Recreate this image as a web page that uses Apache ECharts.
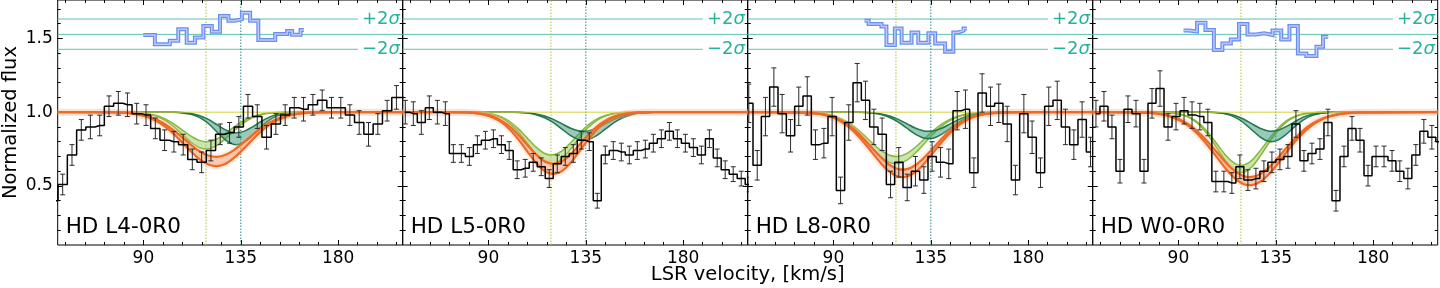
<!DOCTYPE html>
<html><head><meta charset="utf-8">
<script src="https://cdn.jsdelivr.net/npm/echarts@6/dist/echarts.min.js"></script>
<style>html,body{margin:0;padding:0;background:#fff}#c{width:1440px;height:288px}</style>
</head><body><div id="c"></div>
<script>
// ---------------- data ----------------
const panelNames = ['HD L4-0R0', 'HD L5-0R0', 'HD L8-0R0', 'HD W0-0R0'];
const xTickLabels = [90, 135, 180];
const xMinorTicks = [54, 63, 72, 81, 99, 108, 117, 126, 144, 153, 162, 171, 189, 198, 207];
const yTickLabels = [0.5, 1.0, 1.5];
const yMinorTicks = [0.2, 0.3, 0.4, 0.6, 0.7, 0.8, 0.9, 1.1, 1.2, 1.3, 1.4, 1.6, 1.7];
const sigmaLevels = [1.426, 1.527, 1.631];        // -2σ, mean, +2σ of residual panel
const sigmaLabels = ['−2', null, '+2'];
const componentVel = [118.9, 135.0];               // dotted component markers
const continuumLevel = 1.0;

// panel 1 (HD L4-0R0)
const p1Vel  = [48.4,52.7,57.0,61.3,65.5,69.8,74.1,78.4,82.6,86.9,91.2,95.5,99.8,104.1,108.4,112.6,116.9,121.2,125.5,129.8,134.1,138.3,142.6,146.9,151.2,155.5,159.7,164.0,168.3,172.6,176.9,181.2,185.4,189.7,194.0,198.3,202.6,206.9,211.1];
const p1Flux = [0.40,0.51,0.71,0.88,0.90,0.91,1.04,1.06,1.05,0.99,0.98,0.89,0.81,0.80,0.78,0.68,0.66,0.74,0.85,0.86,0.90,1.04,0.97,0.83,0.92,0.98,1.03,1.02,1.05,1.08,1.03,1.03,0.98,0.93,0.85,0.92,1.01,1.10,1.10];
const p1Err  = [0.07,0.07,0.07,0.07,0.08,0.07,0.07,0.08,0.08,0.07,0.07,0.07,0.07,0.07,0.07,0.07,0.07,0.07,0.07,0.07,0.07,0.08,0.08,0.08,0.07,0.07,0.07,0.08,0.07,0.07,0.07,0.07,0.07,0.08,0.08,0.07,0.07,0.08,0.08];
const p1ResVel = [89.9,95.3,102.2,106.1,110.0,113.8,117.7,121.6,125.4,129.3,132.4,135.5,139.3,143.1,150.9,156.4,158.7,162.6,164.1];
const p1Res    = [1.523,1.46,1.484,1.561,1.47,1.506,1.584,1.545,1.651,1.62,1.63,1.674,1.62,1.489,1.53,1.55,1.525,1.556,1.556];

// panel 2 (HD L5-0R0)
const p2Vel  = [51.6,55.3,59.0,62.7,66.4,70.1,73.8,77.5,81.2,84.9,88.6,92.3,96.0,99.6,103.3,107.0,110.7,114.4,118.1,121.8,125.5,129.2,132.9,136.6,140.3,144.0,147.7,151.4,155.1,158.8,162.5,166.2,169.9,173.6,177.3,181.0,184.7,188.4,192.1,195.7,199.4,203.1,206.8,210.5];
const p2Flux = [1.00,0.99,0.93,1.03,1.00,0.99,0.72,0.72,0.70,0.78,0.81,0.82,0.78,0.74,0.61,0.62,0.66,0.63,0.55,0.65,0.70,0.72,0.81,0.80,0.40,0.71,0.74,0.73,0.71,0.74,0.75,0.79,0.82,0.87,0.82,0.79,0.76,0.71,0.82,0.69,0.61,0.58,0.55,0.51];
const p2Err  = [0.08,0.08,0.08,0.08,0.08,0.08,0.06,0.06,0.06,0.06,0.06,0.06,0.06,0.06,0.06,0.06,0.06,0.06,0.06,0.06,0.06,0.06,0.06,0.06,0.05,0.06,0.06,0.06,0.06,0.06,0.06,0.06,0.06,0.06,0.06,0.06,0.06,0.06,0.06,0.06,0.06,0.05,0.05,0.05];

// panel 3 (HD L8-0R0)
const p3Vel  = [50.9,54.8,58.6,62.5,66.3,70.2,74.0,77.9,81.7,85.6,89.4,93.3,97.1,101.0,104.8,108.7,112.5,116.4,120.2,124.1,127.9,131.8,135.6,139.5,143.3,147.2,151.0,154.9,158.7,162.6,166.4,170.3,174.1,178.0,181.8,185.7,189.5,193.4,197.2,201.1,204.9,208.8];
const p3Flux = [1.06,0.64,0.97,1.17,0.99,0.84,1.04,1.11,0.78,0.79,0.97,0.47,0.93,1.20,1.08,0.90,0.85,0.51,0.66,0.49,0.60,0.54,0.70,0.66,0.65,1.01,1.02,0.59,1.13,1.04,1.06,0.92,0.54,0.99,0.83,0.59,1.04,1.08,0.90,0.78,0.95,0.73];
const p3Err  = [0.13,0.10,0.13,0.13,0.13,0.11,0.13,0.13,0.10,0.10,0.13,0.09,0.12,0.13,0.13,0.12,0.11,0.09,0.10,0.09,0.10,0.09,0.10,0.10,0.10,0.13,0.13,0.10,0.13,0.13,0.13,0.12,0.10,0.13,0.11,0.10,0.13,0.13,0.12,0.10,0.12,0.10];
const p3ResVel = [104.4,106.3,112.2,114.5,118.4,121.5,126.1,129.2,133.9,137.0,141.6,145.4,147.8,150.1,151.7];
const p3Res    = [1.62,1.597,1.58,1.455,1.567,1.47,1.54,1.47,1.534,1.466,1.41,1.54,1.553,1.567,1.567];

// panel 4 (HD W0-0R0)
const p4Vel  = [51.9,55.6,59.3,63.0,66.7,70.4,74.1,77.8,81.5,85.2,88.9,92.6,96.3,99.9,103.6,107.3,111.0,114.7,118.4,122.1,125.8,129.5,133.2,136.9,140.6,144.3,148.0,151.7,155.4,159.1,162.8,166.5,170.2,173.9,177.6,181.3,185.0,188.7,192.3,196.0,199.7,203.4,207.1,210.8];
const p4Flux = [0.99,1.04,0.90,0.60,1.02,0.99,0.60,1.06,1.16,0.90,0.97,1.01,0.98,0.97,0.93,0.53,0.53,0.52,0.63,0.54,0.55,0.60,0.66,0.68,0.70,0.92,0.67,0.72,0.75,0.93,0.40,0.70,0.89,0.81,0.57,0.70,0.70,0.67,0.60,0.55,0.71,0.87,0.83,0.80];
const p4Err  = [0.09,0.10,0.08,0.08,0.09,0.09,0.08,0.10,0.12,0.09,0.09,0.09,0.09,0.09,0.09,0.07,0.07,0.07,0.08,0.07,0.07,0.07,0.07,0.07,0.08,0.09,0.07,0.07,0.07,0.09,0.07,0.07,0.08,0.08,0.07,0.07,0.07,0.07,0.07,0.07,0.07,0.08,0.08,0.08];
const p4ResVel = [92.4,94.8,98.6,102.5,106.4,110.3,114.2,118.0,121.9,125.8,129.7,133.5,137.5,141.3,145.2,149.1,153.8,156.8,159.2];
const p4Res    = [1.553,1.546,1.606,1.557,1.421,1.466,1.493,1.597,1.527,1.534,1.523,1.553,1.493,1.584,1.398,1.380,1.443,1.511,1.511];

// model bands (lower / upper edges) sampled on modelVel
const modelVel = [50.4,76,80,84,88,92,96,100,104,108,112,116,120,124,128,132,136,140,144,148,152,156,160,164,168,172,209.8];
const p1OrLo = [1,0.998,0.996,0.991,0.982,0.966,0.940,0.902,0.852,0.793,0.733,0.680,0.645,0.634,0.651,0.692,0.747,0.808,0.865,0.912,0.947,0.970,0.985,0.993,0.997,0.999,1];
const p1OrHi = [1,0.999,0.997,0.993,0.985,0.972,0.950,0.918,0.877,0.829,0.779,0.735,0.706,0.697,0.711,0.745,0.791,0.841,0.888,0.927,0.956,0.975,0.987,0.994,0.997,0.999,1];
const p1LgLo = [1,1,0.999,0.998,0.995,0.988,0.972,0.944,0.901,0.848,0.796,0.759,0.751,0.775,0.821,0.876,0.924,0.960,0.981,0.992,0.997,0.999,1,1,1,1,1];
const p1LgHi = [1,1,1,0.999,0.996,0.990,0.978,0.955,0.921,0.879,0.837,0.807,0.801,0.820,0.857,0.901,0.939,0.968,0.985,0.994,0.998,0.999,1,1,1,1,1];
const p1DgLo = [1,1,1,1,1,1,1,1,0.999,0.995,0.985,0.963,0.923,0.866,0.811,0.781,0.792,0.837,0.896,0.945,0.976,0.992,0.998,0.999,1,1,1];
const p1DgHi = [1,1,1,1,1,1,1,1,0.999,0.997,0.991,0.976,0.951,0.915,0.880,0.861,0.868,0.897,0.934,0.965,0.985,0.995,0.998,1,1,1,1];

const p2OrLo = [1,0.999,0.997,0.993,0.983,0.964,0.932,0.881,0.812,0.733,0.657,0.601,0.580,0.601,0.657,0.733,0.812,0.881,0.932,0.964,0.983,0.993,0.997,0.999,1,1,1];
const p2OrHi = [1,0.999,0.998,0.994,0.986,0.970,0.943,0.901,0.844,0.778,0.714,0.667,0.650,0.667,0.714,0.778,0.844,0.901,0.943,0.970,0.986,0.994,0.998,0.999,1,1,1];
const p2LgLo = [1,1,1,0.998,0.993,0.983,0.961,0.921,0.862,0.788,0.714,0.663,0.651,0.684,0.750,0.826,0.894,0.943,0.973,0.989,0.996,0.999,1,1,1,1,1];
const p2LgHi = [1,1,1,0.998,0.994,0.986,0.968,0.935,0.885,0.824,0.763,0.720,0.711,0.738,0.793,0.856,0.912,0.953,0.978,0.991,0.997,0.999,1,1,1,1,1];
const p2DgLo = [1,1,1,1,1,1,1,0.999,0.998,0.994,0.983,0.962,0.929,0.885,0.841,0.814,0.814,0.841,0.885,0.929,0.962,0.983,0.994,0.998,0.999,1,1];
const p2DgHi = [1,1,1,1,1,1,1,1,0.999,0.996,0.988,0.974,0.951,0.921,0.891,0.873,0.873,0.891,0.921,0.951,0.974,0.988,0.996,0.999,1,1,1];

const p3OrLo = [1,0.997,0.993,0.986,0.972,0.948,0.912,0.861,0.796,0.724,0.653,0.596,0.564,0.564,0.596,0.653,0.724,0.796,0.861,0.912,0.948,0.972,0.986,0.993,0.997,0.999,1];
const p3OrHi = [1,0.997,0.994,0.988,0.975,0.954,0.922,0.877,0.819,0.755,0.693,0.642,0.614,0.614,0.642,0.693,0.755,0.819,0.877,0.922,0.954,0.975,0.988,0.994,0.997,0.999,1];
const p3LgLo = [1,0.999,0.996,0.991,0.980,0.959,0.927,0.880,0.820,0.755,0.697,0.659,0.651,0.675,0.725,0.788,0.851,0.905,0.945,0.971,0.986,0.994,0.998,0.999,1,1,1];
const p3LgHi = [1,0.999,0.997,0.992,0.983,0.965,0.937,0.897,0.846,0.790,0.741,0.708,0.701,0.721,0.764,0.818,0.873,0.919,0.953,0.975,0.988,0.995,0.998,0.999,1,1,1];
const p3DgLo = [1,1,1,1,1,1,1,0.999,0.998,0.994,0.984,0.964,0.933,0.891,0.850,0.824,0.824,0.850,0.891,0.933,0.964,0.984,0.994,0.998,0.999,1,1];
const p3DgHi = [1,1,1,1,1,1,1,1,0.999,0.996,0.988,0.974,0.951,0.921,0.891,0.873,0.873,0.891,0.921,0.951,0.974,0.988,0.996,0.999,1,1,1];

const p4OrLo = [1,0.995,0.990,0.979,0.961,0.933,0.892,0.835,0.766,0.690,0.615,0.553,0.514,0.506,0.530,0.582,0.652,0.729,0.802,0.865,0.914,0.949,0.971,0.985,0.993,0.997,1];
const p4OrHi = [1,0.996,0.991,0.982,0.966,0.941,0.904,0.853,0.792,0.725,0.658,0.603,0.568,0.561,0.582,0.628,0.691,0.759,0.824,0.880,0.923,0.954,0.974,0.987,0.993,0.997,1];
const p4LgLo = [1,1,1,0.998,0.992,0.980,0.954,0.908,0.838,0.751,0.665,0.605,0.592,0.630,0.707,0.796,0.876,0.934,0.969,0.987,0.995,0.999,1,1,1,1,1];
const p4LgHi = [1,1,1,0.998,0.993,0.982,0.960,0.919,0.858,0.781,0.706,0.653,0.641,0.675,0.743,0.821,0.891,0.942,0.973,0.989,0.996,0.999,1,1,1,1,1];
const p4DgLo = [1,1,1,1,1,1,1,1,0.999,0.996,0.987,0.966,0.930,0.879,0.829,0.801,0.811,0.852,0.905,0.950,0.978,0.992,0.998,0.999,1,1,1];
const p4DgHi = [1,1,1,1,1,1,1,1,0.999,0.997,0.991,0.978,0.954,0.921,0.889,0.871,0.877,0.904,0.938,0.968,0.986,0.995,0.999,1,1,1,1];

// ---------------- layout / style ----------------
const X_MIN = 50.4, X_MAX = 209.8, Y_MIN = 0.1, Y_MAX = 1.76;
const GRID_LEFT = 57.7, GRID_W = 345, GRID_TOP = 0, GRID_H = 245;
const SIGMA_LINE_END = 189.1;
const FONT = '"DejaVu Sans", sans-serif';
const C = {
  hist: '#000', err: '#2a2a2a', sigma: '#5cc2b4', sigmaText: '#27b29c',
  cont: '#d6d23a', compA: '#b3bf3c', compB: '#2b8a86',
  orEdge: '#ee6a26', orFill: 'rgba(246,140,92,0.42)', orHalo: 'rgba(250,180,140,0.22)',
  lgEdge: '#86b83a', lgFill: 'rgba(150,205,95,0.50)',
  dgEdge: '#22764c', dgFill: 'rgba(50,150,115,0.50)',
  resOuter: '#6a8ef0', resInner: '#bccbf9'
};

const panels = [
  {vel:p1Vel, flux:p1Flux, err:p1Err, resV:p1ResVel, res:p1Res, or:[p1OrLo,p1OrHi], lg:[p1LgLo,p1LgHi], dg:[p1DgLo,p1DgHi]},
  {vel:p2Vel, flux:p2Flux, err:p2Err, resV:null, res:null, or:[p2OrLo,p2OrHi], lg:[p2LgLo,p2LgHi], dg:[p2DgLo,p2DgHi]},
  {vel:p3Vel, flux:p3Flux, err:p3Err, resV:p3ResVel, res:p3Res, or:[p3OrLo,p3OrHi], lg:[p3LgLo,p3LgHi], dg:[p3DgLo,p3DgHi]},
  {vel:p4Vel, flux:p4Flux, err:p4Err, resV:p4ResVel, res:p4Res, or:[p4OrLo,p4OrHi], lg:[p4LgLo,p4LgHi], dg:[p4DgLo,p4DgHi]}
];

const zip = (a, b) => { const n = Math.min(a.length, b.length); const o = []; for (let k = 0; k < n; k++) o.push([a[k], b[k]]); return o; };

const grids = [], xAxes = [], yAxes = [], series = [];

function xAx(i, pos, ticks, len, labels) {
  return {type:'value', gridIndex:i, min:X_MIN, max:X_MAX, position:pos,
    axisLine:{show:false}, splitLine:{show:false},
    axisTick:{show:true, inside:true, length:len, customValues:ticks, lineStyle:{color:'#000', width:1}},
    axisLabel: labels ? {show:true, customValues:ticks, fontSize:17, color:'#000', fontFamily:FONT, margin:5} : {show:false}};
}
function yAx(i, pos, ticks, len, labels) {
  return {type:'value', gridIndex:i, min:Y_MIN, max:Y_MAX, position:pos,
    axisLine:{show:false}, splitLine:{show:false},
    axisTick:{show:true, inside:true, length:len, customValues:ticks, lineStyle:{color:'#000', width:1}},
    axisLabel: labels ? {show:true, customValues:ticks, formatter:v => v.toFixed(1), fontSize:17, color:'#000', fontFamily:FONT, margin:5} : {show:false}};
}

function bandSeries(i, lo, hi, fill, edge, width, z, halo) {
  return {
    type:'custom', xAxisIndex:4*i, yAxisIndex:4*i, z:z, silent:true, clip:true,
    data:[[X_MIN, continuumLevel]],
    renderItem:(params, api) => {
      const n = Math.min(modelVel.length, lo.length, hi.length);
      const L = [], U = [];
      for (let k = 0; k < n; k++) { L.push(api.coord([modelVel[k], lo[k]])); U.push(api.coord([modelVel[k], hi[k]])); }
      const ch = [];
      if (halo) {
        ch.push({type:'polyline', shape:{points:L, smooth:0.3}, style:{stroke:halo, lineWidth:7, fill:null}});
        ch.push({type:'polyline', shape:{points:U, smooth:0.3}, style:{stroke:halo, lineWidth:7, fill:null}});
      }
      ch.push({type:'polygon', shape:{points:L.concat(U.slice().reverse()), smooth:0.3}, style:{fill:fill, stroke:null}});
      ch.push({type:'polyline', shape:{points:L, smooth:0.3}, style:{stroke:edge, lineWidth:width, fill:null}});
      ch.push({type:'polyline', shape:{points:U, smooth:0.3}, style:{stroke:edge, lineWidth:width, fill:null}});
      return {type:'group', children:ch};
    }
  };
}

panels.forEach((p, i) => {
  grids.push({left:GRID_LEFT + i*GRID_W, top:GRID_TOP, width:GRID_W, height:GRID_H,
    show:true, borderColor:'#000', borderWidth:1, backgroundColor:'transparent'});
  xAxes.push(xAx(i, 'bottom', xTickLabels, 5, true));
  xAxes.push(xAx(i, 'bottom', xMinorTicks, 3, false));
  xAxes.push(xAx(i, 'top', xTickLabels, 5, false));
  xAxes.push(xAx(i, 'top', xMinorTicks, 3, false));
  yAxes.push(yAx(i, 'left', yTickLabels, 5, i === 0));
  yAxes.push(yAx(i, 'left', yMinorTicks, 3, false));
  yAxes.push(yAx(i, 'right', yTickLabels, 5, false));
  yAxes.push(yAx(i, 'right', yMinorTicks, 3, false));
  const ax = {xAxisIndex:4*i, yAxisIndex:4*i};

  // sigma reference lines
  sigmaLevels.forEach((lvl, s) => {
    const lab = sigmaLabels[s];
    series.push(Object.assign({type:'line', silent:true, z:1, symbol:'none', animation:false,
      data: lab ? [[X_MIN, lvl], [SIGMA_LINE_END, lvl]] : [[X_MIN, lvl], [X_MAX, lvl]],
      lineStyle:{color:C.sigma, width:1},
      endLabel: lab ? {show:true, distance:4, formatter:'{a|' + lab + '}{b|σ}',
        rich:{a:{color:C.sigmaText, fontSize:18, fontFamily:FONT}, b:{color:C.sigmaText, fontSize:18, fontFamily:FONT, fontStyle:'italic'}}} : {show:false}
    }, ax));
  });
  // component velocity markers
  componentVel.forEach((v, c) => {
    series.push(Object.assign({type:'line', silent:true, z:1, symbol:'none',
      data:[[v, Y_MIN], [v, Y_MAX]],
      lineStyle:{color: c === 0 ? C.compA : C.compB, width:1, type:[1.5, 1.5]}}, ax));
  });
  // model bands
  series.push(bandSeries(i, p.lg[0], p.lg[1], C.lgFill, C.lgEdge, 1.5, 2));
  series.push(bandSeries(i, p.dg[0], p.dg[1], C.dgFill, C.dgEdge, 1.5, 3));
  series.push(Object.assign({type:'line', silent:true, z:4, symbol:'none',
    data:[[X_MIN, continuumLevel], [X_MAX, continuumLevel]], lineStyle:{color:C.cont, width:1}}, ax));
  series.push(bandSeries(i, p.or[0], p.or[1], C.orFill, C.orEdge, 2.2, 5, C.orHalo));
  // error bars
  const eb = [];
  for (let k = 0; k < Math.min(p.vel.length, p.flux.length, p.err.length); k++) eb.push([p.vel[k], p.flux[k], p.err[k]]);
  series.push(Object.assign({type:'custom', z:6, silent:true, clip:true, data:eb,
    dimensions:['v','f','e'], encode:{x:0, y:1},
    renderItem:(params, api) => {
      const v = api.value(0), f = api.value(1), e = api.value(2);
      const t = api.coord([v, f + e]), b = api.coord([v, f - e]);
      const cap = 2.5, st = {stroke:C.err, lineWidth:1};
      return {type:'group', children:[
        {type:'line', shape:{x1:t[0], y1:t[1], x2:b[0], y2:b[1]}, style:st},
        {type:'line', shape:{x1:t[0]-cap, y1:t[1], x2:t[0]+cap, y2:t[1]}, style:st},
        {type:'line', shape:{x1:b[0]-cap, y1:b[1], x2:b[0]+cap, y2:b[1]}, style:st}
      ]};
    }}, ax));
  // histogram
  series.push(Object.assign({type:'line', z:7, silent:true, symbol:'none', step:'middle', clip:true,
    data:zip(p.vel, p.flux), lineStyle:{color:C.hist, width:1.5}}, ax));
  // residuals
  if (p.resV) {
    series.push(Object.assign({type:'line', z:8, silent:true, symbol:'none', step:'end', clip:true,
      data:zip(p.resV, p.res), lineStyle:{color:C.resOuter, width:4, join:'miter'}}, ax));
    series.push(Object.assign({type:'line', z:9, silent:true, symbol:'none', step:'end', clip:true,
      data:zip(p.resV, p.res), lineStyle:{color:C.resInner, width:1.5, join:'miter'}}, ax));
  }
});

const graphics = panelNames.map((name, i) => ({
  type:'text', x:GRID_LEFT + i*GRID_W + 8, y:227.5, z:100,
  style:{text:name, font:'21.5px ' + FONT, fill:'#000', align:'left', textAlign:'left', verticalAlign:'middle', textVerticalAlign:'middle'}
}));
graphics.push({type:'text', x:11, y:122.5, rotation:Math.PI/2, z:100,
  style:{text:'Normalized flux', font:'19.5px ' + FONT, fill:'#000', align:'center', textAlign:'center', verticalAlign:'middle', textVerticalAlign:'middle'}});
graphics.push({type:'text', x:GRID_LEFT + 2*GRID_W, y:275, z:100,
  style:{text:'LSR velocity, [km/s]', font:'19.5px ' + FONT, fill:'#000', align:'center', textAlign:'center', verticalAlign:'middle', textVerticalAlign:'middle'}});

const chart = echarts.init(document.getElementById('c'), null, {renderer:'canvas'});
chart.setOption({
  animation:false, backgroundColor:'#fff',
  grid:grids, xAxis:xAxes, yAxis:yAxes, series:series, graphic:graphics
});
</script></body></html>
